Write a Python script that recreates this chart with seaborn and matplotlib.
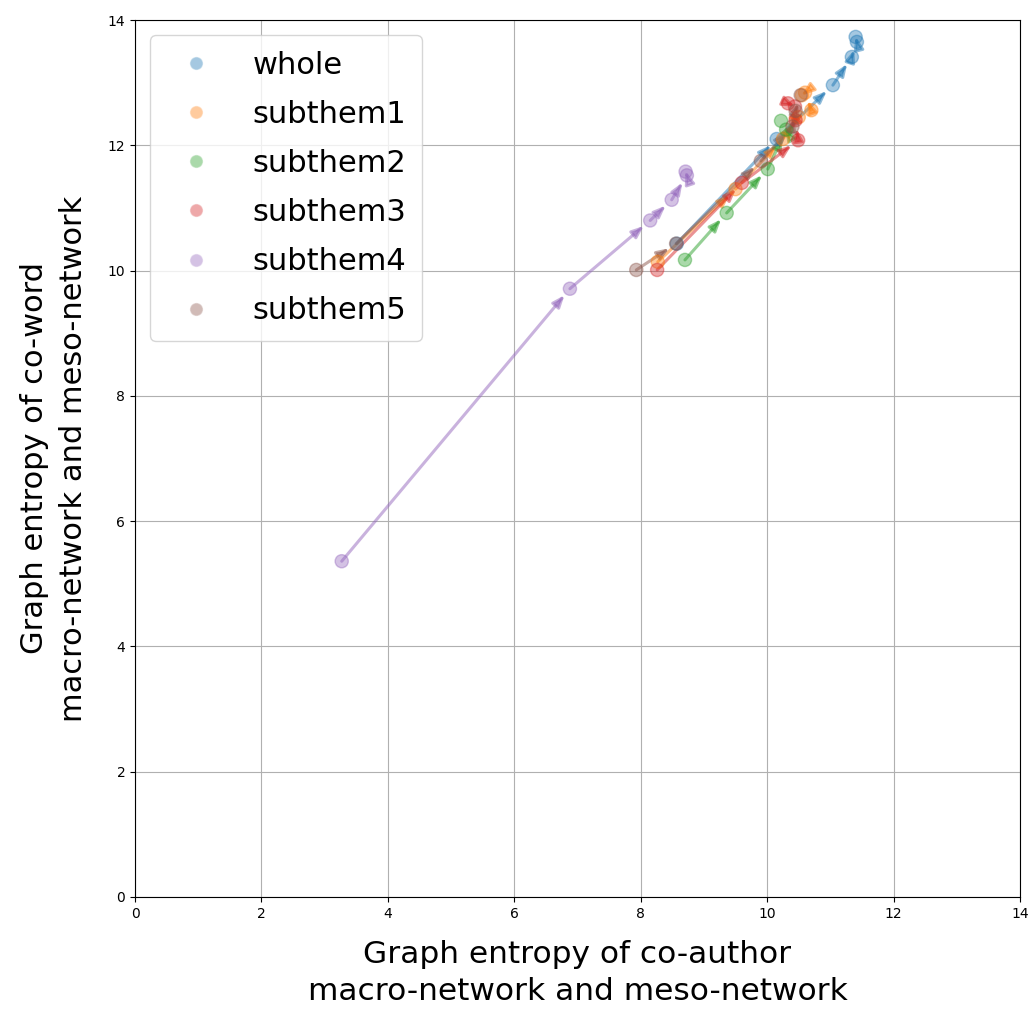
import matplotlib
matplotlib.use("Agg")
import matplotlib.pyplot as plt
import seaborn as sns
import pandas as pd

series_names = ["whole", "subthem1", "subthem2", "subthem3", "subthem4", "subthem5"]

whole_x = [8.57, 10.15, 11.04, 11.34, 11.42, 11.40]
whole_y = [10.43, 12.10, 12.96, 13.41, 13.65, 13.73]

subthem1_x = [8.27, 9.50, 10.25, 10.50, 10.70, 10.60, 10.55]
subthem1_y = [10.14, 11.30, 12.10, 12.45, 12.56, 12.84, 12.80]

subthem2_x = [8.70, 9.36, 10.01, 10.30, 10.22]
subthem2_y = [10.17, 10.92, 11.62, 12.25, 12.39]

subthem3_x = [8.26, 9.60, 10.49, 10.45, 10.33, 10.44]
subthem3_y = [10.01, 11.40, 12.08, 12.40, 12.67, 12.62]

subthem4_x = [3.27, 6.88, 8.15, 8.49, 8.73, 8.71]
subthem4_y = [5.36, 9.71, 10.80, 11.13, 11.52, 11.58]

subthem5_x = [7.93, 8.56, 9.90, 10.40, 10.45, 10.53]
subthem5_y = [10.01, 10.43, 11.75, 12.30, 12.55, 12.80]

xs = [whole_x, subthem1_x, subthem2_x, subthem3_x, subthem4_x, subthem5_x]
ys = [whole_y, subthem1_y, subthem2_y, subthem3_y, subthem4_y, subthem5_y]

rows = []
for name, sx, sy in zip(series_names, xs, ys):
    for i, (a, b) in enumerate(zip(sx, sy)):
        rows.append({"series": name, "x": a, "y": b, "step": i})
df = pd.DataFrame(rows)

sns.set_style("ticks")
plt.rcParams["font.family"] = ["DejaVu Sans"]
plt.rcParams["text.color"] = "black"
plt.rcParams["axes.labelcolor"] = "black"
plt.rcParams["xtick.color"] = "black"
plt.rcParams["ytick.color"] = "black"

fig = plt.figure(figsize=(10.36, 10.10), dpi=100)
ax = fig.add_axes([135 / 1036, 1 - 897 / 1010, (1020 - 135) / 1036, (897 - 20) / 1010])

palette = sns.color_palette("tab10", 6)

for name, col in zip(series_names, palette):
    sub = df[df["series"] == name].sort_values("step")
    px = sub["x"].tolist()
    py = sub["y"].tolist()
    for i in range(len(px) - 1):
        ax.annotate("", xy=(px[i + 1], py[i + 1]), xytext=(px[i], py[i]),
                    arrowprops=dict(arrowstyle="-|>,head_length=0.5,head_width=0.2",
                                    color=col, alpha=0.5, lw=2.2,
                                    shrinkA=0, shrinkB=6, mutation_scale=14))

sns.scatterplot(data=df, x="x", y="y", hue="series", hue_order=series_names,
                palette=palette, s=90, alpha=0.4, linewidth=1.0, ax=ax, zorder=3)
for coll in ax.collections:
    coll.set_edgecolor(coll.get_facecolor())

ax.set_xlim(0, 14)
ax.set_ylim(0, 14)
ax.set_xticks(range(0, 15, 2))
ax.set_yticks(range(0, 15, 2))
ax.tick_params(labelsize=10)
ax.grid(True, color="#b0b0b0", lw=0.8)
ax.set_axisbelow(True)
for s in ax.spines.values():
    s.set_visible(True)
    s.set_color("black")
    s.set_linewidth(0.8)

ax.set_xlabel("Graph entropy of co-author\nmacro-network and meso-network",
              fontsize=22.5, linespacing=1.35, labelpad=14)
ax.set_ylabel("Graph entropy of co-word\nmacro-network and meso-network",
              fontsize=22, linespacing=1.45, labelpad=14)

leg = ax.legend(loc="upper left", fontsize=22, markerscale=1.0, frameon=True,
                borderpad=0.5, labelspacing=0.66, handletextpad=0.85)
leg.get_frame().set_edgecolor("#cccccc")
for h in leg.legend_handles:
    h.set_alpha(0.4)

fig.savefig("out.png", dpi=100)
